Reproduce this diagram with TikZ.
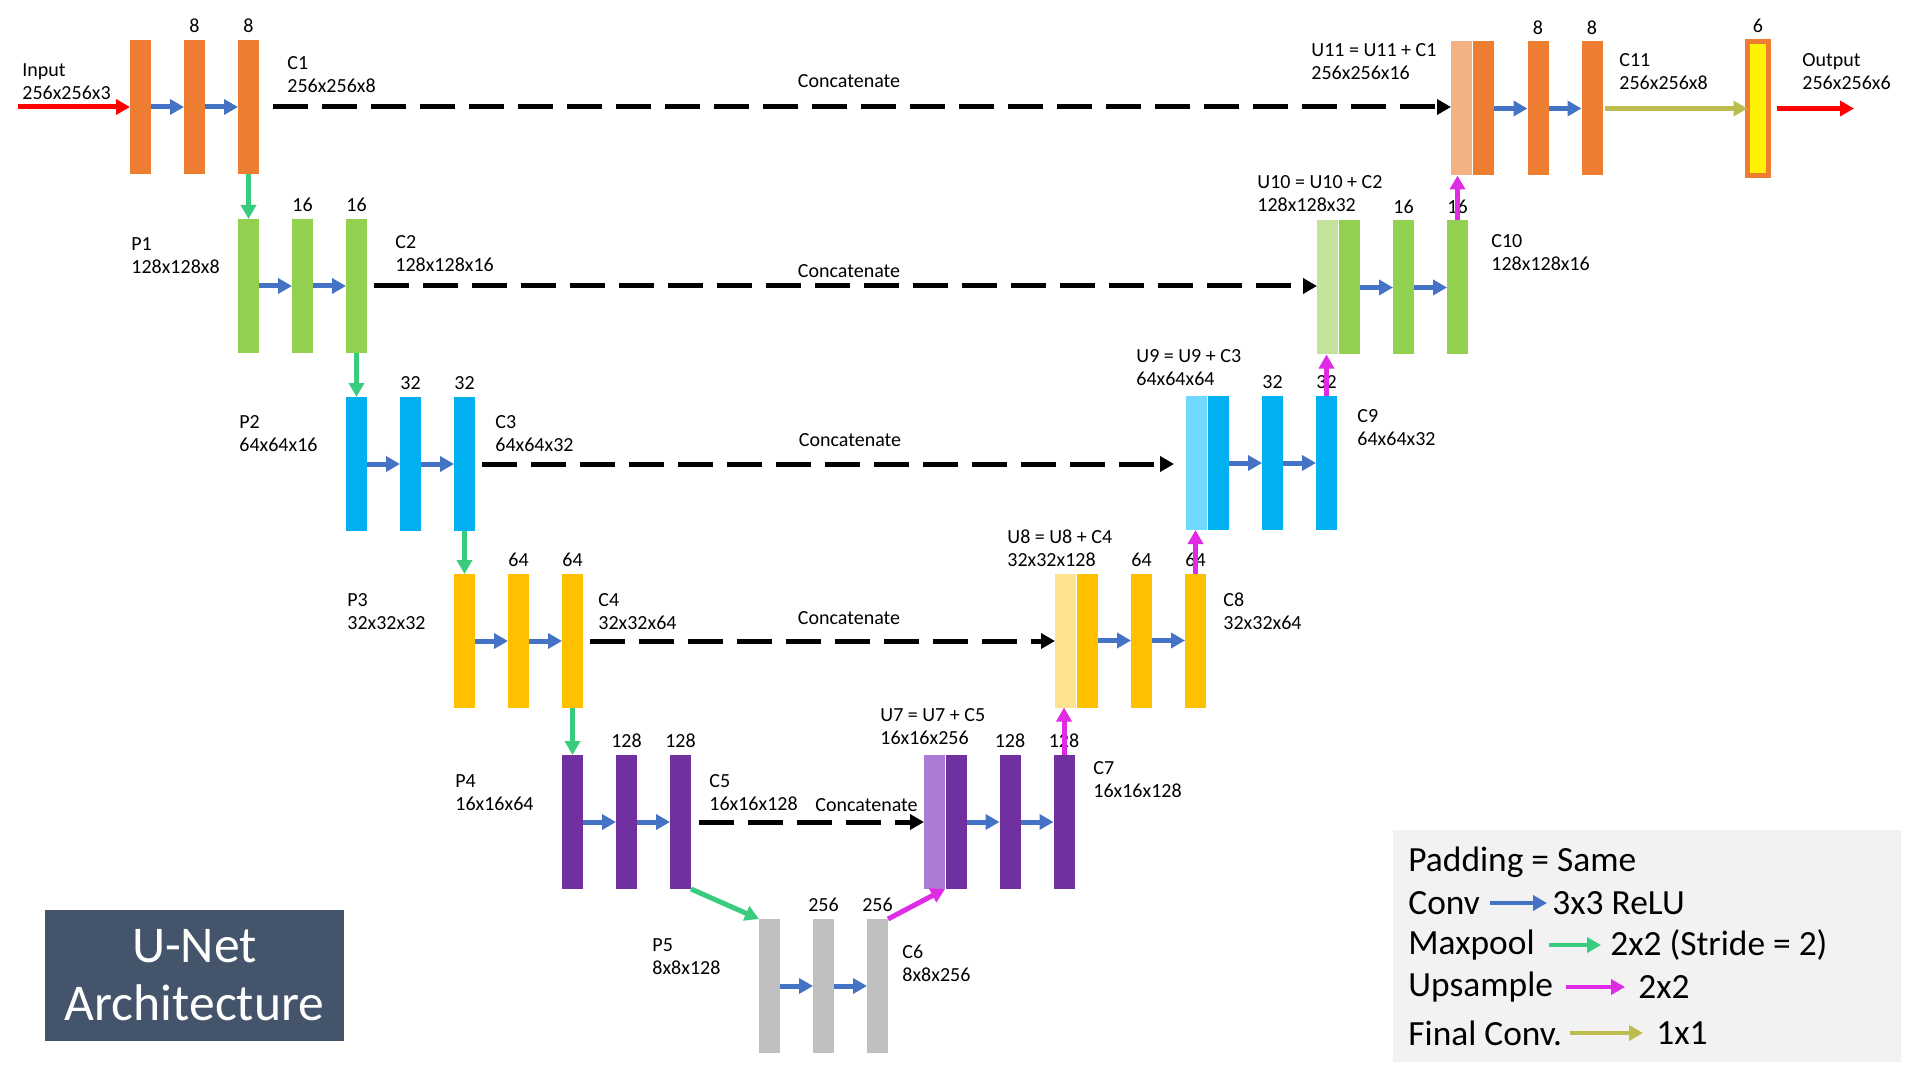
\documentclass[tikz,border=0pt]{standalone}
\usepackage{fontspec}
\setmainfont{Carlito}
\usetikzlibrary{arrows.meta}
\definecolor{corange}{HTML}{ED7D31}
\definecolor{clorange}{HTML}{F4B183}
\definecolor{cgreen}{HTML}{92D050}
\definecolor{clgreen}{HTML}{C3E29C}
\definecolor{cblue}{HTML}{00B0F0}
\definecolor{clblue}{HTML}{71D8FF}
\definecolor{cyellow}{HTML}{FFC000}
\definecolor{clyellow}{HTML}{FEE28F}
\definecolor{cpurple}{HTML}{7030A0}
\definecolor{clpurple}{HTML}{AB7BD6}
\definecolor{cgray}{HTML}{BFBFBF}
\definecolor{convblue}{HTML}{4472C4}
\definecolor{poolgreen}{HTML}{3ACC7E}
\definecolor{upmag}{HTML}{E02BE6}
\definecolor{finolive}{HTML}{BDBD4F}
\definecolor{titlebg}{HTML}{44546A}
\definecolor{legbg}{HTML}{F2F2F2}
\begin{document}
\begin{tikzpicture}[x=0.5pt,y=-0.5pt,
  >={Triangle[length=7pt,width=7.5pt]},
  bar/.style={rectangle, inner sep=0pt, outer sep=0pt, minimum width=10.5pt, minimum height=67pt},
  lbl/.style={font=\fontsize{10}{11.5}\selectfont, align=left, anchor=west, inner sep=0pt},
  num/.style={font=\fontsize{10}{12}\selectfont, inner sep=0pt},
  cat/.style={font=\fontsize{10}{12}\selectfont, inner sep=0pt},
  legtxt/.style={font=\fontsize{17.7}{20}\selectfont, anchor=west, inner sep=0pt},
  convarrow/.style={draw=convblue, line width=2.5pt, ->},
  poolarrow/.style={draw=poolgreen, line width=2.5pt, ->},
  upsarrow/.style={draw=upmag, line width=2.5pt, ->},
  finarrow/.style={draw=finolive, line width=2.5pt, ->},
  catarrow/.style={draw=black, line width=2.5pt, dash pattern=on 17.5pt off 7pt, ->},
  ioarrow/.style={draw=red, line width=2.5pt, ->},
  legarrow/.style={line width=2pt, ->}
]
\path[use as bounding box, fill=white] (0,0) rectangle (1920,1080);

% ---------- encoder ----------
\node[bar, fill=corange] (E1a) at (140.5,107) {};
\node[bar, fill=corange] (E1b) at (194.5,107) {};
\node[bar, fill=corange] (C1) at (248.5,107) {};

\node[bar, fill=cgreen] (P1) at (248.5,286) {};
\node[bar, fill=cgreen] (E2b) at (302.5,286) {};
\node[bar, fill=cgreen] (C2) at (356.5,286) {};

\node[bar, fill=cblue] (P2) at (356.5,464) {};
\node[bar, fill=cblue] (E3b) at (410.5,464) {};
\node[bar, fill=cblue] (C3) at (464.5,464) {};

\node[bar, fill=cyellow] (P3) at (464.5,641) {};
\node[bar, fill=cyellow] (E4b) at (518.5,641) {};
\node[bar, fill=cyellow] (C4) at (572.5,641) {};

\node[bar, fill=cpurple] (P4) at (572.5,822) {};
\node[bar, fill=cpurple] (E5b) at (626.5,822) {};
\node[bar, fill=cpurple] (C5) at (680.5,822) {};

\node[bar, fill=cgray] (P5) at (769.5,986) {};
\node[bar, fill=cgray] (E6b) at (823.5,986) {};
\node[bar, fill=cgray] (C6) at (877.5,986) {};

% ---------- decoder ----------
\node[bar, fill=clpurple] (U7l) at (934.5,822) {};
\node[bar, fill=cpurple] (U7d) at (956.5,822) {};
\node[bar, fill=cpurple] (D7b) at (1010,822) {};
\node[bar, fill=cpurple] (C7) at (1064,822) {};

\node[bar, fill=clyellow] (U8l) at (1065.5,640.5) {};
\node[bar, fill=cyellow] (U8d) at (1087.5,640.5) {};
\node[bar, fill=cyellow] (D8b) at (1141.5,640.5) {};
\node[bar, fill=cyellow] (C8) at (1195.5,640.5) {};

\node[bar, fill=clblue] (U9l) at (1196.5,463) {};
\node[bar, fill=cblue] (U9d) at (1218.5,463) {};
\node[bar, fill=cblue] (D9b) at (1272.5,463) {};
\node[bar, fill=cblue] (C9) at (1326.5,463) {};

\node[bar, fill=clgreen] (U10l) at (1327.5,287.5) {};
\node[bar, fill=cgreen] (U10d) at (1349.5,287.5) {};
\node[bar, fill=cgreen] (D10b) at (1403.5,287.5) {};
\node[bar, fill=cgreen] (C10) at (1457.5,287.5) {};

\node[bar, fill=clorange] (U11l) at (1461.5,108.5) {};
\node[bar, fill=corange] (U11d) at (1483.5,108.5) {};
\node[bar, fill=corange] (D11b) at (1538,108.5) {};
\node[bar, fill=corange] (C11) at (1592,108.5) {};

\node[bar, fill=yellow, draw=corange, line width=2.5pt] (Fin) at (1758,108.5) {};

% ---------- channel numbers ----------
\node[num] (n1b) at ([yshift=7pt]E1b.north) {8};
\node[num] (n1c) at ([yshift=7pt]C1.north) {8};
\node[num] (n2b) at ([yshift=7pt]E2b.north) {16};
\node[num] (n2c) at ([yshift=7pt]C2.north) {16};
\node[num] (n3b) at ([yshift=7pt]E3b.north) {32};
\node[num] (n3c) at ([yshift=7pt]C3.north) {32};
\node[num] (n4b) at ([yshift=7pt]E4b.north) {64};
\node[num] (n4c) at ([yshift=7pt]C4.north) {64};
\node[num] (n5b) at ([yshift=7pt]E5b.north) {128};
\node[num] (n5c) at ([yshift=7pt]C5.north) {128};
\node[num] (n6b) at ([yshift=7pt]E6b.north) {256};
\node[num] (n6c) at ([yshift=7pt]C6.north) {256};
\node[num] (n7b) at ([yshift=7pt]D7b.north) {128};
\node[num] (n7c) at ([yshift=7pt]C7.north) {128};
\node[num] (n8b) at ([yshift=7pt]D8b.north) {64};
\node[num] (n8c) at ([yshift=7pt]C8.north) {64};
\node[num] (n9b) at ([yshift=7pt]D9b.north) {32};
\node[num] (n9c) at ([yshift=7pt]C9.north) {32};
\node[num] (n10b) at ([yshift=7pt]D10b.north) {16};
\node[num] (n10c) at ([yshift=7pt]C10.north) {16};
\node[num] (n11b) at ([yshift=7pt]D11b.north) {8};
\node[num] (n11c) at ([yshift=7pt]C11.north) {8};
\node[num] (nfin) at (1758,26) {6};

% ---------- labels ----------
\node[lbl] (tInput) at (22,82) {Input\\256x256x3};
\node[lbl] (tC1) at (287,75) {C1\\256x256x8};
\node[lbl] (tU11) at (1311,62) {U11 = U11 + C1\\256x256x16};
\node[lbl] (tC11) at (1619,71.5) {C11\\256x256x8};
\node[lbl] (tOut) at (1802,71.5) {Output\\256x256x6};
\node[lbl] (tP1) at (131,255.5) {P1\\128x128x8};
\node[lbl] (tC2) at (395,254) {C2\\128x128x16};
\node[lbl] (tU10) at (1257,193.5) {U10 = U10 + C2\\128x128x32};
\node[lbl] (tC10) at (1491,252.5) {C10\\128x128x16};
\node[lbl] (tP2) at (239,434) {P2\\64x64x16};
\node[lbl] (tC3) at (495,434) {C3\\64x64x32};
\node[lbl] (tU9) at (1136,368) {U9 = U9 + C3\\64x64x64};
\node[lbl] (tC9) at (1357,427.5) {C9\\64x64x32};
\node[lbl] (tP3) at (347,611.5) {P3\\32x32x32};
\node[lbl] (tC4) at (598,611.5) {C4\\32x32x64};
\node[lbl] (tU8) at (1007,548) {U8 = U8 + C4\\32x32x128};
\node[lbl] (tC8) at (1223,611) {C8\\32x32x64};
\node[lbl] (tP4) at (455,792.5) {P4\\16x16x64};
\node[lbl] (tC5) at (709,792.5) {C5\\16x16x128};
\node[lbl] (tU7) at (880,727) {U7 = U7 + C5\\16x16x256};
\node[lbl] (tC7) at (1093,780) {C7\\16x16x128};
\node[lbl] (tP5) at (652,956.5) {P5\\8x8x128};
\node[lbl] (tC6) at (902,963) {C6\\8x8x256};

\node[cat] (cat1) at (849,81) {Concatenate};
\node[cat] (cat2) at (849,271) {Concatenate};
\node[cat] (cat3) at (850,440) {Concatenate};
\node[cat] (cat4) at (849,618) {Concatenate};
\node[cat, anchor=west] (cat5) at (815,805) {Concatenate};

% ---------- conv arrows ----------
\draw[convarrow] (E1a.east) -- (E1b.west);
\draw[convarrow] (E1b.east) -- (C1.west);
\draw[convarrow] (P1.east) -- (E2b.west);
\draw[convarrow] (E2b.east) -- (C2.west);
\draw[convarrow] (P2.east) -- (E3b.west);
\draw[convarrow] (E3b.east) -- (C3.west);
\draw[convarrow] (P3.east) -- (E4b.west);
\draw[convarrow] (E4b.east) -- (C4.west);
\draw[convarrow] (P4.east) -- (E5b.west);
\draw[convarrow] (E5b.east) -- (C5.west);
\draw[convarrow] (P5.east) -- (E6b.west);
\draw[convarrow] (E6b.east) -- (C6.west);
\draw[convarrow] (U7d.east) -- (D7b.west);
\draw[convarrow] (D7b.east) -- (C7.west);
\draw[convarrow] (U8d.east) -- (D8b.west);
\draw[convarrow] (D8b.east) -- (C8.west);
\draw[convarrow] (U9d.east) -- (D9b.west);
\draw[convarrow] (D9b.east) -- (C9.west);
\draw[convarrow] (U10d.east) -- (D10b.west);
\draw[convarrow] (D10b.east) -- (C10.west);
\draw[convarrow] (U11d.east) -- (D11b.west);
\draw[convarrow] (D11b.east) -- (C11.west);

% ---------- maxpool arrows ----------
\draw[poolarrow] (C1.south) -- (P1.north);
\draw[poolarrow] (C2.south) -- (P2.north);
\draw[poolarrow] (C3.south) -- (P3.north);
\draw[poolarrow] (C4.south) -- (P4.north);
\draw[poolarrow] (C5.south east) -- (P5.north west);

% ---------- upsample arrows ----------
\draw[upsarrow] (C6.north east) -- (U7l.south east);
\draw[upsarrow] (C7.north) -- (C7.north |- U8l.south);
\draw[upsarrow] (C8.north) -- (C8.north |- U9l.south);
\draw[upsarrow] (C9.north) -- (C9.north |- U10l.south);
\draw[upsarrow] (C10.north) -- (C10.north |- U11l.south);

% ---------- concatenate arrows ----------
\draw[catarrow, shorten <=7pt] (C1.east) -- (C1.east -| U11l.west);
\draw[catarrow, shorten <=3.5pt] (C2.east) -- (C2.east -| U10l.west);
\draw[catarrow, shorten <=3.5pt, shorten >=6pt] (C3.east) -- (C3.east -| U9l.west);
\draw[catarrow, shorten <=3.5pt] (C4.east) -- (C4.east -| U8l.west);
\draw[catarrow, shorten <=4pt] (C5.east) -- (C5.east -| U7l.west);

% ---------- final conv, input, output ----------
\draw[finarrow, shorten <=1pt] (C11.east) -- (C11.east -| Fin.west);
\coordinate (inS) at (18,107);
\coordinate (outE) at (1854,108.5);
\draw[ioarrow] (inS) -- (E1a.west);
\draw[ioarrow, shorten <=4.25pt] (Fin.east) -- (outE);

% ---------- title ----------
\node[fill=titlebg, minimum width=149.5pt, minimum height=65.5pt, inner sep=0pt,
      text=white, align=center, font=\fontsize{25.8}{29}\selectfont] (title) at (194.5,975.5) {U-Net\\Architecture};

% ---------- legend ----------
\node[fill=legbg, minimum width=254pt, minimum height=116pt, inner sep=0pt] (legend) at (1647,946) {};
\node[legtxt] (lpad) at (1408,862) {Padding = Same};
\node[legtxt] (lconv) at (1408,903) {Conv};
\node[legtxt] (lconvr) at (1552,903) {3x3 ReLU};
\node[legtxt] (lpool) at (1408,945) {Maxpool};
\node[legtxt] (lpoolr) at (1610,945) {2x2 (Stride = 2)};
\node[legtxt] (lup) at (1408,987) {Upsample};
\node[legtxt] (lupr) at (1638,987) {2x2};
\node[legtxt] (lfin) at (1408,1033) {Final Conv.};
\node[legtxt] (lfinr) at (1656,1033) {1x1};
\draw[legarrow, draw=convblue, shorten <=5pt, shorten >=2.5pt] (lconv.east) -- (lconvr.west);
\draw[legarrow, draw=poolgreen, shorten <=7pt, shorten >=4.5pt] (lpool.east) -- (lpoolr.west);
\draw[legarrow, draw=upmag, shorten <=6.5pt, shorten >=6.5pt] (lup.east) -- (lupr.west);
\draw[legarrow, draw=finolive, shorten <=4pt, shorten >=6.5pt] (lfin.east) -- (lfinr.west);
\end{tikzpicture}
\end{document}
